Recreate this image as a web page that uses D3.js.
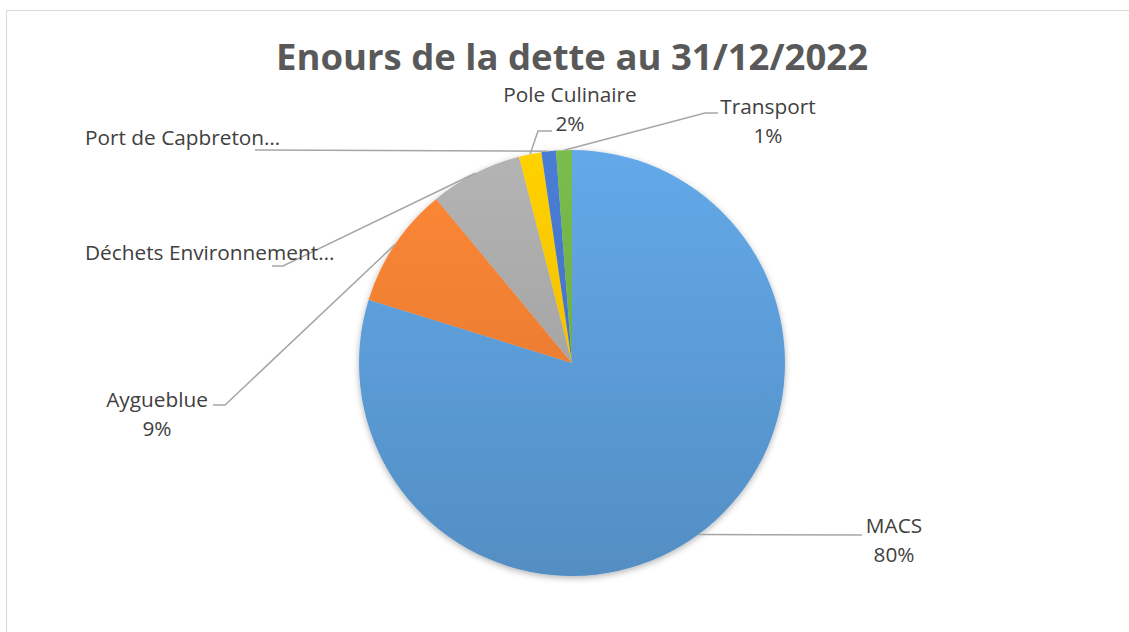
<!doctype html>
<meta charset="utf-8">
<style>
    body { margin: 0; background: #fff; }
    text { font-family: "Open Sans", Lato, sans-serif; }
    .lbl { fill: #404040; font-size: 20.8px; }
    .title { fill: #595959; font-size: 36.5px; font-weight: bold; }
    .leader { fill: none; stroke: #a6a6a6; stroke-width: 1.5; }
</style>
<html>
<head>
    <script src="https://d3js.org/d3.v7.min.js"></script>
</head>
<body>
<div id="chart"></div>
<script>

    // data (shares of total, %)
    var categories = ["MACS", "Aygueblue", "Déchets Environnement", "Pole Culinaire", "Port de Capbreton", "Transport"];
    var values = [79.8, 9.2, 7.0, 1.7, 1.1, 1.2];
    var labelNames = ["MACS", "Aygueblue", "Déchets Environnement…", "Pole Culinaire", "Port de Capbreton…", "Transport"];
    var showPct = [true, true, false, true, false, true];
    var colors = ["#5b9bd5", "#ed7d31", "#a5a5a5", "#ffc000", "#4472c4", "#70ad47"];

    // label layout (x, y of name baseline, anchor, elbow and end of leader)
    var labelLayout = [
        {x: 894, y: 533, anchor: "middle", elbow: [862, 535], end: [862, 535]},
        {x: 157, y: 407, anchor: "middle", elbow: [225, 405], end: [213, 405]},
        {x: 85,  y: 260, anchor: "start",  elbow: [283, 266], end: [272, 266]},
        {x: 570, y: 102, anchor: "middle", elbow: [538, 131], end: [552, 131]},
        {x: 85,  y: 145, anchor: "start",  elbow: [255, 150], end: [255, 150]},
        {x: 768, y: 114, anchor: "middle", elbow: [705, 113], end: [718, 113]}
    ];

    var width = 1129, height = 632;
    var cx = 572, cy = 363, radius = 213;

    var svg = d3.select("#chart")
        .append("svg")
        .attr("width", width)
        .attr("height", height);

    // chart area border
    svg.append("rect")
        .attr("x", 6.5).attr("y", 10.5)
        .attr("width", 1200).attr("height", 700)
        .attr("fill", "none")
        .attr("stroke", "#d9d9d9");

    var defs = svg.append("defs");
    var shadow = defs.append("filter").attr("id", "shadow")
        .attr("x", "-10%").attr("y", "-10%").attr("width", "120%").attr("height", "120%");
    shadow.append("feDropShadow")
        .attr("dx", 0).attr("dy", 2).attr("stdDeviation", 3)
        .attr("flood-color", "#000").attr("flood-opacity", 0.3);

    // vertical gradient per slice, pie-local coordinates
    colors.forEach(function(c, i) {
        var gr = defs.append("linearGradient")
            .attr("id", "grad" + i)
            .attr("gradientUnits", "userSpaceOnUse")
            .attr("x1", 0).attr("y1", -radius)
            .attr("x2", 0).attr("y2", radius);
        gr.append("stop").attr("offset", "0%").attr("stop-color", d3.color(c).brighter(0.25));
        gr.append("stop").attr("offset", "100%").attr("stop-color", d3.color(c).darker(0.25));
    });

    var data = categories.map(function(c, i) { return {name: c, value: values[i], i: i}; });

    var pie = d3.pie().sort(null).value(function(d) { return d.value; });
    var arc = d3.arc().innerRadius(0).outerRadius(radius);
    var edge = d3.arc().innerRadius(radius).outerRadius(radius);

    var arcs = pie(data);

    var g = svg.append("g")
        .attr("transform", "translate(" + cx + "," + cy + ")");

    g.append("g")
        .attr("filter", "url(#shadow)")
        .selectAll("path")
        .data(arcs)
        .enter().append("path")
        .attr("d", arc)
        .attr("fill", function(d) { return "url(#grad" + d.data.i + ")"; });

    // leader lines
    var pct = d3.format(".0%");
    svg.append("g").selectAll("path")
        .data(arcs)
        .enter().append("path")
        .attr("class", "leader")
        .attr("d", function(d) {
            var p = edge.centroid(d);
            var L = labelLayout[d.data.i];
            return "M" + (p[0] + cx) + "," + (p[1] + cy) +
                "L" + L.elbow[0] + "," + L.elbow[1] +
                "L" + L.end[0] + "," + L.end[1];
        });

    // labels
    var lbl = svg.append("g").selectAll("text")
        .data(arcs)
        .enter().append("text")
        .attr("class", "lbl")
        .attr("text-anchor", function(d) { return labelLayout[d.data.i].anchor; })
        .attr("x", function(d) { return labelLayout[d.data.i].x; })
        .attr("y", function(d) { return labelLayout[d.data.i].y; });

    lbl.append("tspan")
        .text(function(d) { return labelNames[d.data.i]; });

    lbl.filter(function(d) { return showPct[d.data.i]; })
        .append("tspan")
        .attr("x", function(d) { return labelLayout[d.data.i].x; })
        .attr("dy", 29)
        .text(function(d) { return pct(d.data.value / d3.sum(values)); });

    // title
    svg.append("text")
        .attr("class", "title")
        .attr("x", cx)
        .attr("y", 70)
        .attr("text-anchor", "middle")
        .text("Enours de la dette au 31/12/2022");

</script>
</body>
</html>
